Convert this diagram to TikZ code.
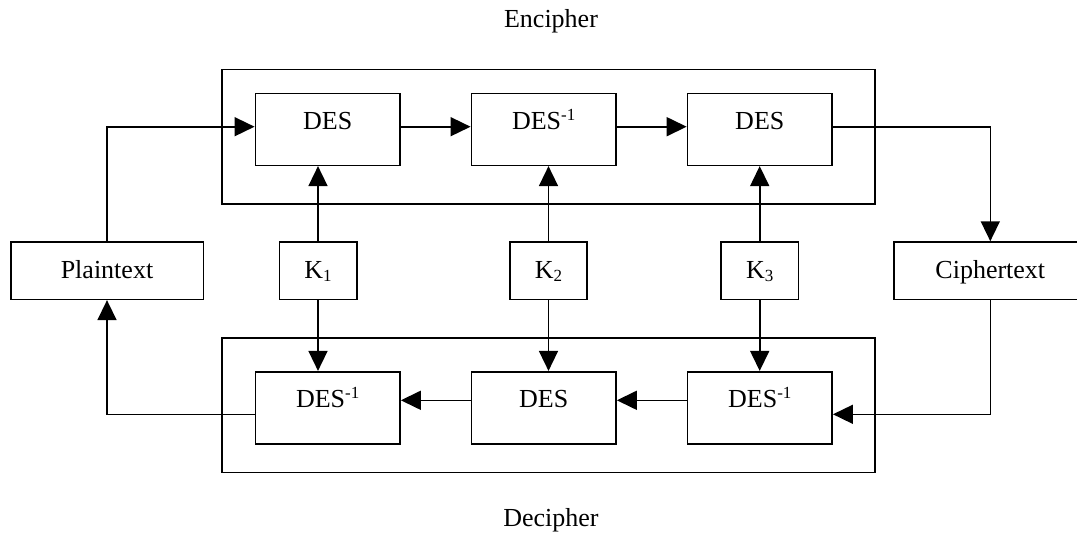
\documentclass[tikz,border=0pt]{standalone}
\usepackage{fontspec}
\setmainfont{Liberation Serif}
\usetikzlibrary{arrows.meta}
\newcommand{\invsup}{\raisebox{9pt}{\fontsize{17}{17}\selectfont -1}}
\newcommand{\keysub}[1]{\raisebox{-2.5pt}{\fontsize{17}{17}\selectfont #1}}
\begin{document}
\begin{tikzpicture}[x=1pt,y=-1pt,
  font=\fontsize{26}{30}\selectfont,
  box/.style={draw, rectangle, inner sep=0pt, line width=1.6pt},
  desbox/.style={box, minimum width=144.7pt, minimum height=72pt, text height=18pt, text depth=18pt},
  iobox/.style={box, minimum height=57.3pt, text height=16pt, text depth=0pt},
  outerbox/.style={box, minimum width=653pt},
  arr/.style={-{Triangle[length=20pt,width=19pt]}, line width=1.6pt}]
\useasboundingbox (0,0) rectangle (1077,533);
% outer frames
\node[outerbox, minimum height=134.7pt] (enc) at (548.5,136.7) {};
\node[outerbox, minimum height=134.3pt] (dec) at (548.5,405.2) {};
% labels
\node[anchor=base] (enclabel) at (551,27) {Encipher};
\node[anchor=base] (declabel) at (551,526.7) {Decipher};
% encipher stages
\node[desbox] (e1) at (327.7,129.3) {DES};
\node[desbox] (e2) at (543.7,129.3) {DES\invsup};
\node[desbox] (e3) at (759.8,129.3) {DES};
% decipher stages
\node[desbox] (d1) at (327.7,407.7) {DES\invsup};
\node[desbox] (d2) at (543.7,407.7) {DES};
\node[desbox] (d3) at (759.8,407.7) {DES\invsup};
% io and keys
\node[iobox, minimum width=192.6pt] (plain) at (107,270.7) {Plaintext};
\node[iobox, minimum width=192.6pt] (cipher) at (990.3,270.7) {Ciphertext};
\node[iobox, minimum width=77.4pt] (k1) at (318,270.7) {K\keysub{1}};
\node[iobox, minimum width=77pt] (k2) at (548.5,270.7) {K\keysub{2}};
\node[iobox, minimum width=77.3pt] (k3) at (759.7,270.7) {K\keysub{3}};
% helper rows
\coordinate (ty) at (0,126.7);
\coordinate (by) at (0,400.3);
\coordinate (bx) at (0,414.3);
% encipher chain
\draw[arr] (plain.north) |- (e1.west |- ty);
\draw[arr] (e1.east |- ty) -- (e2.west |- ty);
\draw[arr] (e2.east |- ty) -- (e3.west |- ty);
\draw[arr] (e3.east |- ty) -| (cipher.north);
% keys up
\draw[arr] (k1.north) -- (k1.north |- e1.south);
\draw[arr] (k2.north) -- (k2.north |- e2.south);
\draw[arr] (k3.north) -- (k3.north |- e3.south);
% keys down
\draw[arr] (k1.south) -- (k1.south |- d1.north);
\draw[arr] (k2.south) -- (k2.south |- d2.north);
\draw[arr] (k3.south) -- (k3.south |- d3.north);
% decipher chain
\draw[arr] (cipher.south) |- (d3.east |- bx);
\draw[arr] (d3.west |- by) -- (d2.east |- by);
\draw[arr] (d2.west |- by) -- (d1.east |- by);
\draw[arr] (d1.west |- bx) -| (plain.south);
\end{tikzpicture}
\end{document}
